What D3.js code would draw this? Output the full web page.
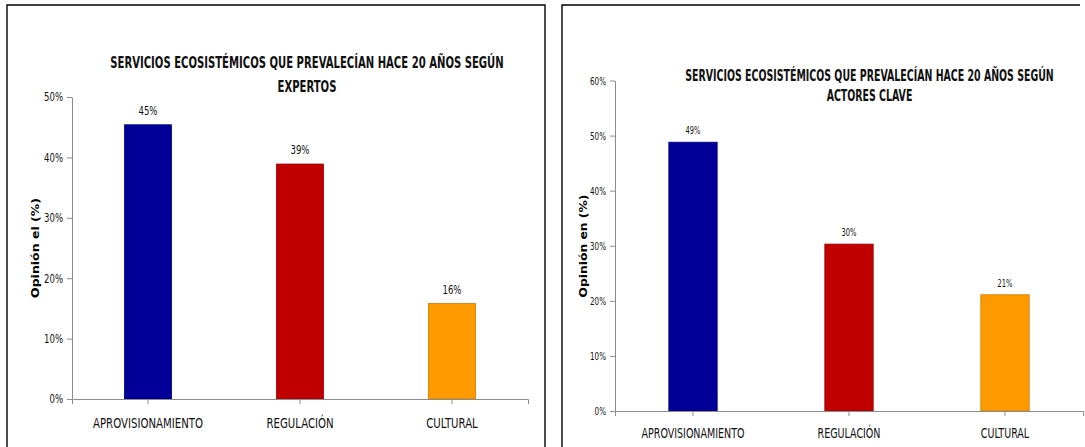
<!DOCTYPE html>
<html><head><meta charset="utf-8">
<script src="https://cdn.jsdelivr.net/npm/d3@7"></script>
<style>html,body{margin:0;padding:0;background:#fff;overflow:hidden}</style>
</head><body><svg id="c" width="1085" height="447"></svg>
<script>
// ---------- data ----------
const categories = ["APROVISIONAMIENTO", "REGULACIÓN", "CULTURAL"];
const expertValues = [0.454, 0.389, 0.158];
const actorValues = [0.488, 0.303, 0.211];
const expertTicks = [0, 0.1, 0.2, 0.3, 0.4, 0.5];
const actorTicks = [0, 0.1, 0.2, 0.3, 0.4, 0.5, 0.6];
const expertTitle = ["SERVICIOS ECOSISTÉMICOS QUE PREVALECÍAN  HACE 20 AÑOS SEGÚN", "EXPERTOS"];
const actorTitle = ["SERVICIOS ECOSISTÉMICOS QUE PREVALECÍAN HACE 20 AÑOS SEGÚN", "ACTORES CLAVE"];
const expertYLabel = "Opinión el (%)";
const actorYLabel = "Opinión en (%)";
const barColors = ["#000099", "#C00000", "#FF9900"];

// ---------- layout ----------
const W = 1085, H = 447;
const NARROW = "'Liberation Sans Narrow','Arial Narrow','DejaVu Sans Condensed',sans-serif";
const WIDE = "'DejaVu Sans','Verdana',sans-serif";
const AXIS = "#8c8c8c";

const leftCfg = {
  border: {l: 7, t: 5, r: 545, closeRight: true},
  xr: [72, 528], yr: [399, 97], yMax: 0.5,
  title: {cx: 307, ys: [62.7, 86.7], fs: 16, w1: 394},
  ylab: {x: 35, y: 248, fs: 11, len: 100},
  xlab: {y: 423, fs: 14, w: 110},
  tick: {fs: 12, w: 19},
  val: {fs: 12, w: 19, off: 10}
};
const rightCfg = {
  border: {l: 562, t: 5, r: 1080, closeRight: false},
  xr: [615, 1083], yr: [411, 80.5], yMax: 0.6,
  title: {cx: 869.5, ys: [75.7, 95.7], fs: 15.5, w1: 369},
  ylab: {x: 583, y: 246, fs: 11, len: 103},
  xlab: {y: 432.7, fs: 14, w: 103},
  tick: {fs: 11, w: 16},
  val: {fs: 10, w: 15, off: 8}
};

const svg = d3.select("#c");
svg.append("rect").attr("width", W).attr("height", H).attr("fill", "#fff");

// compress a group of texts horizontally so that its widest member spans `target` px
function scaleGroup(sel, target) {
  let w = 0;
  sel.each(function () { w = Math.max(w, this.getComputedTextLength()); });
  const k = w > 0 ? target / w : 1;
  sel.each(function () {
    const t = d3.select(this);
    const x = +t.attr("x") || 0, y = +t.attr("y") || 0;
    t.attr("transform", `translate(${x},${y}) scale(${k},1) translate(${-x},${-y})`);
  });
}

function drawPanel(cfg, values, ticks, title, ylabel) {
  const g = svg.append("g");
  const b = cfg.border;
  g.append("path")
    .attr("d", `M${b.l},${H + 10}V${b.t}H${b.r}` + (b.closeRight ? `V${H + 10}` : ""))
    .attr("fill", "none").attr("stroke", "#000").attr("stroke-width", 1.4);

  const x = d3.scaleBand().domain(categories).range(cfg.xr).paddingInner(0.69).paddingOuter(0.345);
  const y = d3.scaleLinear().domain([0, cfg.yMax]).range(cfg.yr);

  // bars
  g.selectAll("rect.bar").data(values).join("rect")
    .attr("class", "bar")
    .attr("x", (d, i) => x(categories[i]))
    .attr("y", d => y(d))
    .attr("width", x.bandwidth())
    .attr("height", d => y(0) - y(d))
    .attr("fill", (d, i) => barColors[i])
    .attr("stroke", (d, i) => d3.color(barColors[i]).darker(0.6))
    .attr("stroke-width", 0.8);

  // x axis
  const xa = g.append("g").attr("transform", `translate(0,${cfg.yr[0]})`)
    .call(d3.axisBottom(x).tickSize(5).tickSizeOuter(5));
  xa.selectAll("path,line").attr("stroke", AXIS);
  const xt = xa.selectAll("text").attr("font-family", NARROW).attr("font-size", cfg.xlab.fs)
    .attr("fill", "#111").attr("y", cfg.xlab.y - cfg.yr[0]).attr("dy", "0.36em");
  scaleGroup(xt, cfg.xlab.w);

  // y axis
  const ya = g.append("g").attr("transform", `translate(${cfg.xr[0]},0)`)
    .call(d3.axisLeft(y).tickValues(ticks).tickFormat(d3.format(".0%")).tickSize(5).tickSizeOuter(0).tickPadding(4));
  ya.selectAll("path,line").attr("stroke", AXIS);
  const yt = ya.selectAll("text").attr("font-family", NARROW).attr("font-size", cfg.tick.fs).attr("fill", "#111");
  scaleGroup(yt, cfg.tick.w);

  // value labels
  const vl = g.selectAll("text.val").data(values).join("text")
    .attr("class", "val")
    .attr("x", (d, i) => x(categories[i]) + x.bandwidth() / 2)
    .attr("y", d => y(d) - cfg.val.off)
    .attr("text-anchor", "middle")
    .attr("font-family", NARROW).attr("font-size", cfg.val.fs).attr("fill", "#111")
    .text(d => d3.format(".0%")(d));
  scaleGroup(vl, cfg.val.w);

  // title
  const tt = g.selectAll("text.title").data(title).join("text")
    .attr("class", "title")
    .attr("x", cfg.title.cx)
    .attr("y", (d, i) => cfg.title.ys[i])
    .attr("dy", "0.36em")
    .attr("text-anchor", "middle")
    .attr("font-family", NARROW).attr("font-weight", "bold").attr("font-size", cfg.title.fs)
    .attr("fill", "#111")
    .text(d => d);
  scaleGroup(tt, cfg.title.w1);

  // y label
  const yl = g.append("text")
    .attr("text-anchor", "middle").attr("dy", "0.35em")
    .attr("font-family", WIDE).attr("font-weight", "bold").attr("font-size", cfg.ylab.fs)
    .attr("fill", "#000")
    .text(ylabel);
  const lw = yl.node().getComputedTextLength();
  yl.attr("transform", `translate(${cfg.ylab.x},${cfg.ylab.y}) rotate(-90) scale(${cfg.ylab.len / lw},1)`);
}

drawPanel(leftCfg, expertValues, expertTicks, expertTitle, expertYLabel);
drawPanel(rightCfg, actorValues, actorTicks, actorTitle, actorYLabel);
</script>
</body></html>
